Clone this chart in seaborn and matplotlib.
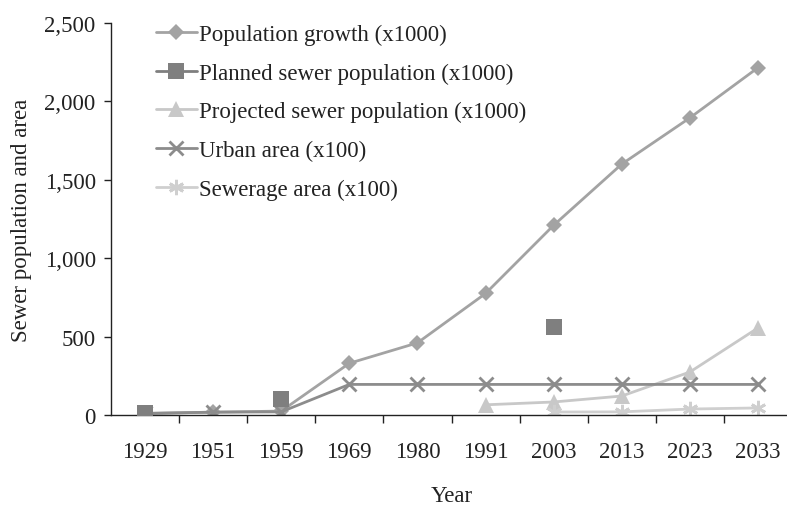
import numpy as np
import pandas as pd
import matplotlib
matplotlib.use('Agg')
import matplotlib.pyplot as plt
from matplotlib.lines import Line2D
import seaborn as sns

years = ["1929", "1951", "1959", "1969", "1980", "1991", "2003", "2013", "2023", "2033"]
pop_growth = [10, 18, 25, 330, 460, 775, 1210, 1600, 1895, 2215]
planned_sewer = [15, np.nan, 100, np.nan, np.nan, np.nan, 560, np.nan, np.nan, np.nan]
projected_sewer = [np.nan, np.nan, np.nan, np.nan, np.nan, 65, 83, 121, 274, 555]
urban_area = [10, 18, 20, 195, 195, 195, 195, 195, 195, 195]
sewerage_area = [np.nan, np.nan, np.nan, np.nan, np.nan, np.nan, 19, 20, 38, 45]

sns.set_theme(style="ticks")
plt.rcParams['font.family'] = ['Liberation Serif', 'DejaVu Serif']

fig = plt.figure(figsize=(7.87, 5.06), dpi=100)
ax = fig.add_axes([111 / 787, 1 - 416 / 506, 681 / 787, 392 / 506])

pos = np.arange(len(years))
df = pd.DataFrame({"x": pos, "pop": pop_growth, "planned": planned_sewer,
                   "projected": projected_sewer, "urban": urban_area,
                   "sewerage": sewerage_area})

asterisk = (6, 2, 0)
# (column, label, colour, marker, size)
series = [
    ("pop", "Population growth (x1000)", "#a3a3a3", "D", 8),
    ("planned", "Planned sewer population (x1000)", "#7f7f7f", "s", 11),
    ("projected", "Projected sewer population (x1000)", "#c8c8c8", "^", 11),
    ("urban", "Urban area (x100)", "#8c8c8c", "x", 10),
    ("sewerage", "Sewerage area (x100)", "#cfcfcf", asterisk, 11),
]

def edge_w(m):
    return 2 if m in ("x", asterisk) else 0

handles = []
for col, label, color, marker, ms in series:
    if col == "planned":
        # points only, the series has gaps between the years
        sns.scatterplot(data=df, x="x", y=col, ax=ax, color=color, marker=marker,
                        s=ms ** 2, linewidth=0, zorder=3, legend=False)
    else:
        sub = df.dropna(subset=[col])
        sns.lineplot(data=sub, x="x", y=col, ax=ax, color=color, linewidth=2,
                     marker=marker, markersize=ms, markeredgewidth=edge_w(marker),
                     markeredgecolor=color, legend=False, zorder=2)
    handles.append(Line2D([], [], color=color, lw=2, marker=marker, markersize=ms,
                          markeredgewidth=edge_w(marker),
                          markeredgecolor=color, label=label))

ax.set_xlim(-0.5, 9.5)
ax.set_ylim(0, 2500)
ax.set_yticks([0, 500, 1000, 1500, 2000, 2500])
ax.set_yticklabels(["0", "500", "1,000", "1,500", "2,000", "2,500"])
ax.set_xticks(pos)
ax.set_xticklabels(years)
ax.set_xticks(np.arange(0.5, 9.5, 1), minor=True)
ax.tick_params(axis="x", which="major", length=0, pad=19, labelsize=16.5, labelcolor="#222222")
ax.tick_params(axis="x", which="minor", length=6, width=1, color="#222222", direction="out")
ax.tick_params(axis="y", length=5, width=1, color="#222222", labelsize=16.5, pad=6,
               labelcolor="#222222")
ax.set_xlabel("Year", fontsize=16.5, labelpad=16, color="#222222")
ax.set_ylabel("Sewer population and area", fontsize=16.5, labelpad=9, color="#222222")
for sp in ["top", "right"]:
    ax.spines[sp].set_visible(False)
for sp in ["left", "bottom"]:
    ax.spines[sp].set_color("#222222")
    ax.spines[sp].set_linewidth(1)

leg = ax.legend(handles=handles, loc="upper left", bbox_to_anchor=(0.052, 1.022), frameon=False,
                fontsize=16.5, handlelength=1.8, handletextpad=0.1, labelspacing=0.77,
                borderaxespad=0)
for t in leg.get_texts():
    t.set_color("#222222")

fig.savefig("out.png", dpi=100)
plt.close()
